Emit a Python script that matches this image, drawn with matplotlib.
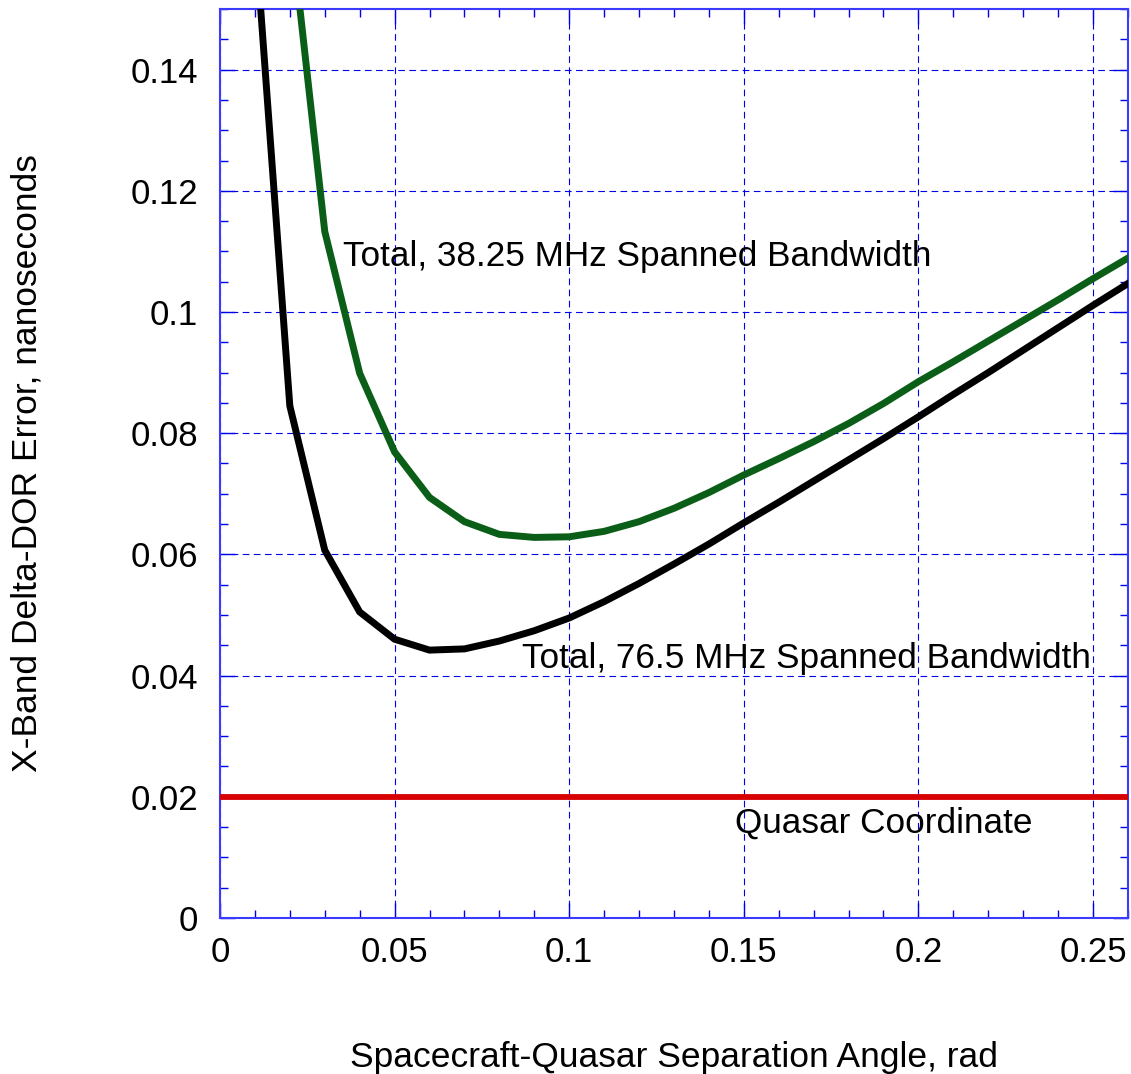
import matplotlib
matplotlib.use("Agg")
import matplotlib.pyplot as plt
from matplotlib.ticker import MultipleLocator, FuncFormatter
from matplotlib import font_manager as fm

# ---- data ----
angle_black = [0.01, 0.02, 0.03, 0.04, 0.05, 0.06, 0.07, 0.08, 0.09, 0.10,
               0.11, 0.12, 0.13, 0.14, 0.15, 0.16, 0.17, 0.18, 0.19, 0.20,
               0.21, 0.22, 0.23, 0.24, 0.25, 0.26]
err_76 = [0.163, 0.0845, 0.0607, 0.0505, 0.0460, 0.0442, 0.0444, 0.0457, 0.0474, 0.0495,
          0.0522, 0.0552, 0.0584, 0.0617, 0.0652, 0.0686, 0.0721, 0.0756, 0.0791, 0.0827,
          0.0864, 0.0900, 0.0937, 0.0974, 0.1011, 0.1047]
angle_green = [0.02, 0.03, 0.04, 0.05, 0.06, 0.07, 0.08, 0.09, 0.10,
               0.11, 0.12, 0.13, 0.14, 0.15, 0.16, 0.17, 0.18, 0.19, 0.20,
               0.21, 0.22, 0.23, 0.24, 0.25, 0.26]
err_38 = [0.165, 0.1133, 0.0899, 0.0769, 0.0694, 0.0654, 0.0633, 0.0628, 0.0629,
          0.0638, 0.0654, 0.0676, 0.0702, 0.0731, 0.0758, 0.0786, 0.0816, 0.0849, 0.0885,
          0.0918, 0.0952, 0.0986, 0.1020, 0.1055, 0.1089]
angle_quasar = [0.0, 0.26]
err_quasar = [0.02, 0.02]

labels = ["Total, 38.25 MHz Spanned Bandwidth",
          "Total, 76.5 MHz Spanned Bandwidth",
          "Quasar Coordinate"]

names = {f.name for f in fm.fontManager.ttflist}
main_font = "Liberation Sans" if "Liberation Sans" in names else "DejaVu Sans"
narrow_font = "Liberation Sans Narrow" if "Liberation Sans Narrow" in names else main_font

plt.rcParams['font.family'] = [main_font, 'DejaVu Sans']

fig = plt.figure(figsize=(11.31, 10.74), dpi=100)
ax = fig.add_axes([0.1945, 0.1453, 0.9973 - 0.1945, 0.9916 - 0.1453])

ax.plot(angle_black, err_76, color='black', lw=5.0, solid_joinstyle='miter', zorder=3)
ax.plot(angle_green, err_38, color='#0b5e17', lw=5.0, solid_joinstyle='miter', zorder=3)
ax.plot(angle_quasar, err_quasar, color='#d60000', lw=4.2, zorder=3)

ax.set_xlim(0, 0.26)
ax.set_ylim(0, 0.15)

ax.xaxis.set_major_locator(MultipleLocator(0.05))
ax.xaxis.set_minor_locator(MultipleLocator(0.01))
ax.yaxis.set_major_locator(MultipleLocator(0.02))
ax.yaxis.set_minor_locator(MultipleLocator(0.005))

def fmt(v, pos):
    s = f"{v:.2f}".rstrip('0').rstrip('.')
    return "0" if s in ("0", "-0") else s
ax.xaxis.set_major_formatter(FuncFormatter(fmt))
ax.yaxis.set_major_formatter(FuncFormatter(fmt))

blue = '#0000ee'
for sp in ax.spines.values():
    sp.set_color('#3b3bff')
    sp.set_linewidth(1.5)
ax.tick_params(which='both', direction='in', top=True, right=True, color=blue)
ax.tick_params(which='major', length=11, width=1.0, labelsize=25, pad=16)
ax.tick_params(which='minor', length=6, width=1.0)
ax.tick_params(axis='x', which='major', pad=13)

ax.grid(True, which='major', color=blue, linestyle=(0, (6, 4)), linewidth=0.8)
ax.set_axisbelow(True)

ax.set_xlabel("Spacecraft-Quasar Separation Angle, rad", fontsize=25.5,
              family=[narrow_font, 'DejaVu Sans'], va='center')
ax.xaxis.set_label_coords(0.5, -0.154)
ax.set_ylabel("X-Band Delta-DOR Error, nanoseconds", fontsize=25.5,
              family=[narrow_font, 'DejaVu Sans'], va='center')
ax.yaxis.set_label_coords(-0.2126, 0.5)

ax.text(0.0352, 0.1092, labels[0], fontsize=25.3, va='center', ha='left', zorder=4)
ax.text(0.0865, 0.0428, labels[1], fontsize=25.3, va='center', ha='left', zorder=4)
ax.text(0.1475, 0.0157, labels[2], fontsize=25.3, va='center', ha='left', zorder=4)

fig.savefig("out.png", dpi=100)
